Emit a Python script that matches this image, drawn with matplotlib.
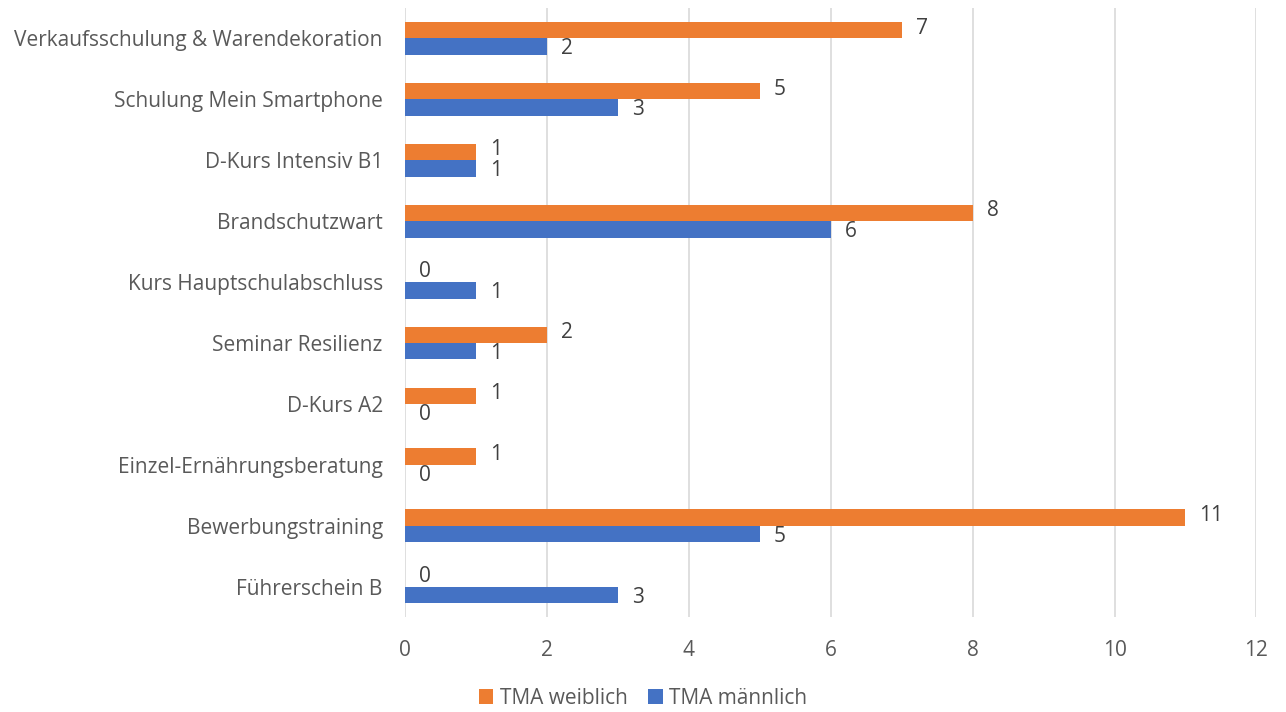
import matplotlib
import matplotlib.pyplot as plt
import numpy as np

matplotlib.use('agg')

categories = ['Verkaufsschulung & Warendekoration', 'Schulung Mein Smartphone',
              'D-Kurs Intensiv B1', 'Brandschutzwart', 'Kurs Hauptschulabschluss',
              'Seminar Resilienz', 'D-Kurs A2', 'Einzel-Ernährungsberatung',
              'Bewerbungstraining', 'Führerschein B']
weiblich = [7, 5, 1, 8, 0, 2, 1, 1, 11, 0]
maennlich = [2, 3, 1, 6, 1, 1, 0, 0, 5, 3]
xticks = [0, 2, 4, 6, 8, 10, 12]

plt.rcParams['font.family'] = ['Open Sans', 'DejaVu Sans']
text_color = '#595959'
fs = 15

fig = plt.figure(figsize=(12.86, 7.12), dpi=100)
ax = fig.add_axes([0.315, 0.133, 0.662, 0.856])

n = len(categories)
y = np.arange(n)[::-1]
h = 0.27

b1 = ax.barh(y + h / 2, weiblich, height=h, color='#ED7D31', label='TMA weiblich', zorder=3)
b2 = ax.barh(y - h / 2, maennlich, height=h, color='#4472C4', label='TMA männlich', zorder=3)

# value labels, orange a bit up, blue a bit down (like the Excel original)
for bars, dy in ((b1, 2), (b2, -2)):
    for rect in bars:
        w = rect.get_width()
        ax.annotate(str(int(w)), (w, rect.get_y() + rect.get_height() / 2),
                    xytext=(14, dy), textcoords='offset pixels',
                    ha='left', va='center', fontsize=fs, color='#404040')

ax.set_yticks(y)
ax.set_yticklabels(categories)
ax.set_xticks(xticks)
ax.set_xlim(0, 12)
ax.set_ylim(-0.5, n - 0.5)
ax.tick_params(axis='both', length=0, labelsize=fs, colors=text_color)
ax.tick_params(axis='y', pad=16)
ax.tick_params(axis='x', pad=16)
ax.grid(axis='x', color='#D9D9D9', linewidth=1.2, zorder=0)
for s in ax.spines.values():
    s.set_visible(False)

fig.legend(handles=[b1, b2], loc='lower center', bbox_to_anchor=(0.5, -0.022), ncol=2,
           frameon=False, fontsize=fs, handlelength=0.7, handleheight=0.7,
           columnspacing=1.0, handletextpad=0.3, labelcolor=text_color)

fig.savefig('out.png', dpi=100)
